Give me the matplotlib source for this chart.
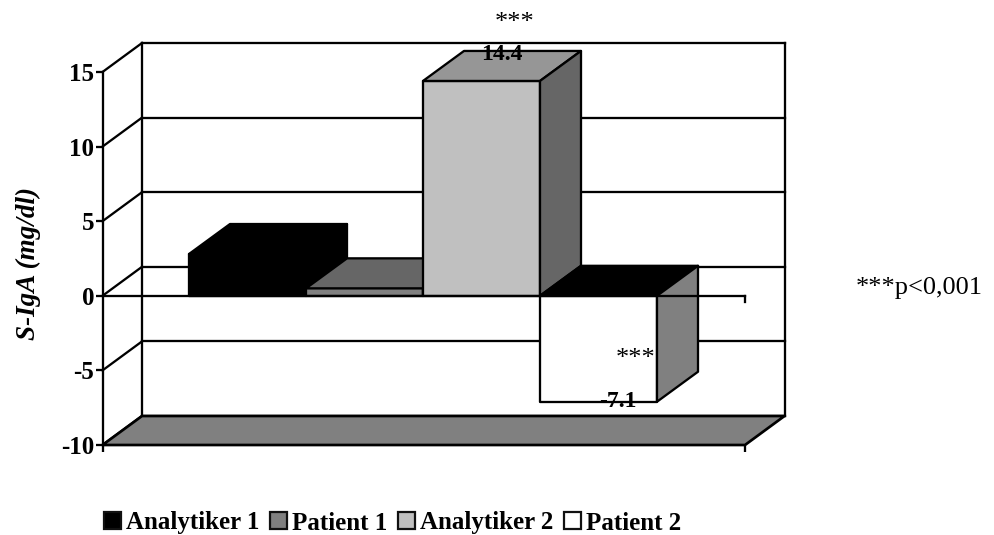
import matplotlib
matplotlib.use("Agg")
import matplotlib.pyplot as plt
from matplotlib.patches import Polygon, Patch

plt.rcParams['font.family'] = ['Liberation Serif', 'DejaVu Serif']

series = ["Analytiker 1", "Patient 1", "Analytiker 2", "Patient 2"]
values = [2.8, 0.5, 14.4, -7.1]
shown_labels = {2: "14.4", 3: "-7.1"}
yticks = [-10, -5, 0, 5, 10, 15]
ylabel = "S-IgA (mg/dl)"

front_colors = ["#000000", "#808080", "#c0c0c0", "#ffffff"]
top_colors = ["#000000", "#666666", "#969696", "#000000"]
side_colors = ["#000000", "#666666", "#666666", "#808080"]

W, H = 994, 535
L, R, T, B = 102.5, 745, 72, 445
UNIT = 117.0
C0 = 247.5
XMIN = (L - C0) / UNIT
XMAX = (R - C0) / UNIT
WALL_DX = 39.5 / UNIT
WALL_DY = 29 * 25 / (B - T)
BAR_DX = 41 / UNIT
BAR_DY = 30 * 25 / (B - T)
LW = 1.65

fig = plt.figure(figsize=(W / 100, H / 100), dpi=100, facecolor="white")
ax = fig.add_axes([L / W, 1 - B / H, (R - L) / W, (B - T) / H])
ax.set_xlim(XMIN, XMAX)
ax.set_ylim(min(yticks), max(yticks))
ax.patch.set_visible(False)
for s in ("top", "right", "bottom"):
    ax.spines[s].set_visible(False)
ax.spines["left"].set_linewidth(LW)
ax.spines["left"].set_zorder(30)

line = dict(color="black", lw=LW, clip_on=False, solid_capstyle="projecting")

# Back wall, side wall and gridlines
for v in yticks:
    ax.plot([XMIN + WALL_DX, XMAX + WALL_DX], [v + WALL_DY] * 2, zorder=1, **line)
    ax.plot([XMIN, XMIN + WALL_DX], [v, v + WALL_DY], zorder=1, **line)
for x in (XMIN + WALL_DX, XMAX + WALL_DX):
    ax.plot([x, x], [min(yticks) + WALL_DY, max(yticks) + WALL_DY], zorder=1, **line)

# Floor
y0 = min(yticks)
ax.add_patch(Polygon([(XMIN, y0), (XMAX, y0), (XMAX + WALL_DX, y0 + WALL_DY),
                      (XMIN + WALL_DX, y0 + WALL_DY)], closed=True, fc="#808080",
                     ec="black", lw=LW + 0.3, clip_on=False, zorder=2))

# Bars
for i, v in enumerate(values):
    z = 5 + i
    a, b = i - 0.5, i + 0.5
    top_level = max(v, 0)
    st = dict(ec="#000000", lw=LW, clip_on=False, zorder=z, joinstyle="round")
    ax.add_patch(Polygon([(a, 0), (b, 0), (b, v), (a, v)], closed=True, fc=front_colors[i], **st))
    ax.add_patch(Polygon([(a, top_level), (b, top_level), (b + BAR_DX, top_level + BAR_DY),
                          (a + BAR_DX, top_level + BAR_DY)], closed=True, fc=top_colors[i], **st))
    ax.add_patch(Polygon([(b, 0), (b + BAR_DX, BAR_DY), (b + BAR_DX, v + BAR_DY), (b, v)],
                         closed=True, fc=side_colors[i], **st))

# Front zero line
ax.plot([XMIN, XMAX], [0, 0], zorder=20, **line)

# Axis ticks
ax.set_yticks(yticks)
ax.set_yticklabels([str(t) for t in yticks], fontsize=18, fontweight="bold")
ax.tick_params(axis="y", length=5, width=LW, pad=1)
ax.set_xticks([XMIN, XMAX])
ax.set_xticklabels([])
ax.tick_params(axis="x", length=5, width=LW)
ax.plot([XMAX, XMAX], [0, -0.4], zorder=20, **line)

fig.text(28 / W, 1 - 263 / H, ylabel, rotation=90, ha="center", va="center",
         fontsize=19.5, fontweight="bold", fontstyle="italic")

# Value labels
ax.annotate(shown_labels[2], (2, values[2]), xytext=(14.5, 19), textcoords="offset points",
            ha="center", va="center", fontsize=17, fontweight="bold", zorder=25)
ax.annotate(shown_labels[3], (3, values[3]), xytext=(14, 0), textcoords="offset points",
            ha="center", va="center", fontsize=17, fontweight="bold", zorder=25)

# Significance marks
fig.text(515 / W, 1 - 23 / H, "***", ha="center", va="center", fontsize=19, zorder=25)
fig.text(636 / W, 1 - 359 / H, "***", ha="center", va="center", fontsize=19, zorder=25)
fig.text(856 / W, 1 - 288 / H, "***p<0,001", ha="left", va="center", fontsize=19)

# Legend
handles = [Patch(fc=c, ec="#111111", lw=1.6) for c in front_colors]
fig.legend(handles, series, ncol=4, frameon=False, loc="center left",
           bbox_to_anchor=(104 / W, 1 - 523 / H), prop=dict(size=18, weight="bold"),
           handlelength=0.66, handleheight=0.68, handletextpad=0.2, columnspacing=0.45,
           borderpad=0, borderaxespad=0)

fig.savefig("out.png", dpi=100)
